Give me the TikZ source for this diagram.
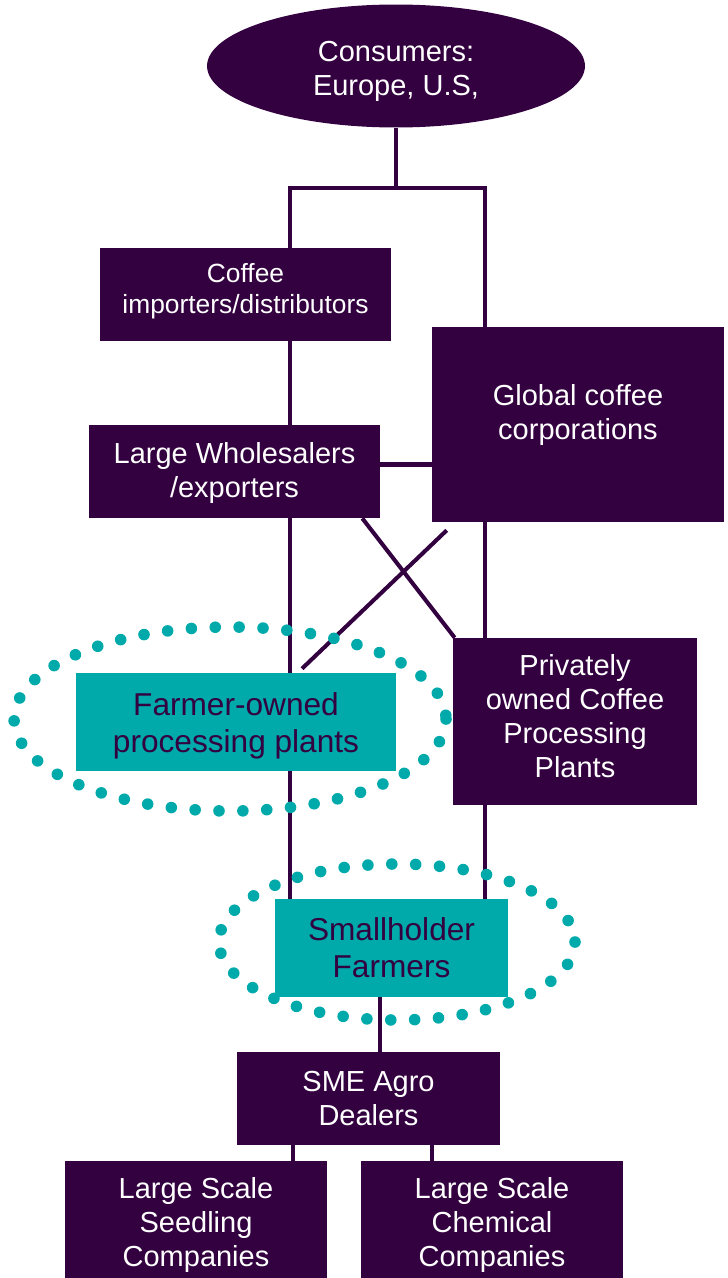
\documentclass[tikz,border=0pt]{standalone}
\usepackage{fontspec}
\setmainfont{Liberation Sans}
\usetikzlibrary{shapes.geometric,calc}
\definecolor{plum}{RGB}{51,0,64}
\definecolor{coffteal}{RGB}{0,170,170}
% stacked lines, nudged up or down inside their box
\newcommand{\boxlines}[2]{\raisebox{#1}[\height][\depth]{\begin{tabular}{@{}c@{}}#2\end{tabular}}}
\tikzset{
  chainbox/.style={fill=plum, text=white, inner sep=0pt,
    font=\fontsize{16.5}{19.3}\selectfont},
  farmbox/.style={chainbox, fill=coffteal, text=plum, font=\fontsize{18}{21}\selectfont},
  link/.style={draw=plum, line width=2.3pt},
  dotring/.style={draw=coffteal, line width=6.6pt, line cap=round, dash pattern=on 0pt off 13.6pt},
}
\begin{document}
\begin{tikzpicture}[x=0.02cm, y=-0.02cm]
\useasboundingbox (0,0) rectangle (727,1278);
\clip (0,0) rectangle (727,1278);
% chain nodes
\node[chainbox, ellipse, minimum width=7.56cm, minimum height=2.46cm] (cons) at (396,66) {\boxlines{-3.4pt}{Consumers:\\Europe, U.S,}};
\node[chainbox, minimum width=5.82cm, minimum height=1.86cm, font=\fontsize{15}{17.6}\selectfont] (imp) at (245.5,294.5) {\boxlines{1.7pt}{Coffee\\importers/distributors}};
\node[chainbox, minimum width=5.84cm, minimum height=3.9cm] (glob) at (578,424.5) {\boxlines{5pt}{Global coffee\\corporations}};
\node[chainbox, minimum width=5.82cm, minimum height=1.86cm] (whole) at (234.5,471.5) {\boxlines{-1.5pt}{Large Wholesalers\\/exporters}};
\node[farmbox, minimum width=6.4cm, minimum height=1.96cm] (farm) at (236,722) {\boxlines{-2.8pt}{Farmer-owned\\processing plants}};
\node[chainbox, minimum width=4.88cm, minimum height=3.34cm] (priv) at (575,721.5) {\boxlines{1pt}{Privately\\owned Coffee\\Processing\\Plants}};
\node[farmbox, minimum width=4.66cm, minimum height=1.96cm] (small) at (391.5,948) {\boxlines{-2.3pt}{Smallholder\\Farmers}};
\node[chainbox, minimum width=5.26cm, minimum height=1.86cm] (sme) at (368.5,1098.5) {\boxlines{-1.7pt}{SME Agro\\Dealers}};
\node[chainbox, minimum width=5.24cm, minimum height=2.44cm] (seed) at (196,1222) {\boxlines{-2.3pt}{Large Scale\\Seedling\\Companies}};
\node[chainbox, minimum width=5.24cm, minimum height=2.44cm] (chem) at (492,1222) {\boxlines{-2.3pt}{Large Scale\\Chemical\\Companies}};
% trunk positions
\coordinate (split) at (396,188);
\coordinate (lx) at (290,0);
\coordinate (gx) at (485,0);
\coordinate (mx) at (380,0);
\coordinate (sx) at (293,0);
\coordinate (cx) at (432,0);
% links
\draw[link] (cons.south) -- (split);
\draw[link] (imp.north -| lx) |- (split) -| (glob.north -| gx);
\draw[link] (imp.south -| lx) -- (whole.north -| lx);
\draw[link] ($(whole.east)+(0,-7)$) coordinate (we) -- (we -| glob.west);
\draw[link] (whole.south -| lx) -- (farm.north -| lx);
\draw[link] (farm.south -| lx) -- (small.north -| lx);
\draw[link] (glob.south -| gx) -- (priv.north -| gx);
\draw[link] (priv.south -| gx) -- (small.north -| gx);
\draw[link] ($(whole.south east)+(-18,0)$) -- ($(priv.north west)+(2,0)$);
\draw[link] ($(glob.south west)+(15,8)$) -- ($(farm.north)+(66,-4)$);
\draw[link] (small.south -| mx) -- (sme.north -| mx);
\draw[link] (sme.south -| sx) -- (seed.north -| sx);
\draw[link] (sme.south -| cx) -- (chem.north -| cx);
% dotted rings
\draw[dotring] (230,719) ellipse[x radius=216, y radius=92];
\draw[dotring] (397,942) ellipse[x radius=178, y radius=78];
\end{tikzpicture}
\end{document}
